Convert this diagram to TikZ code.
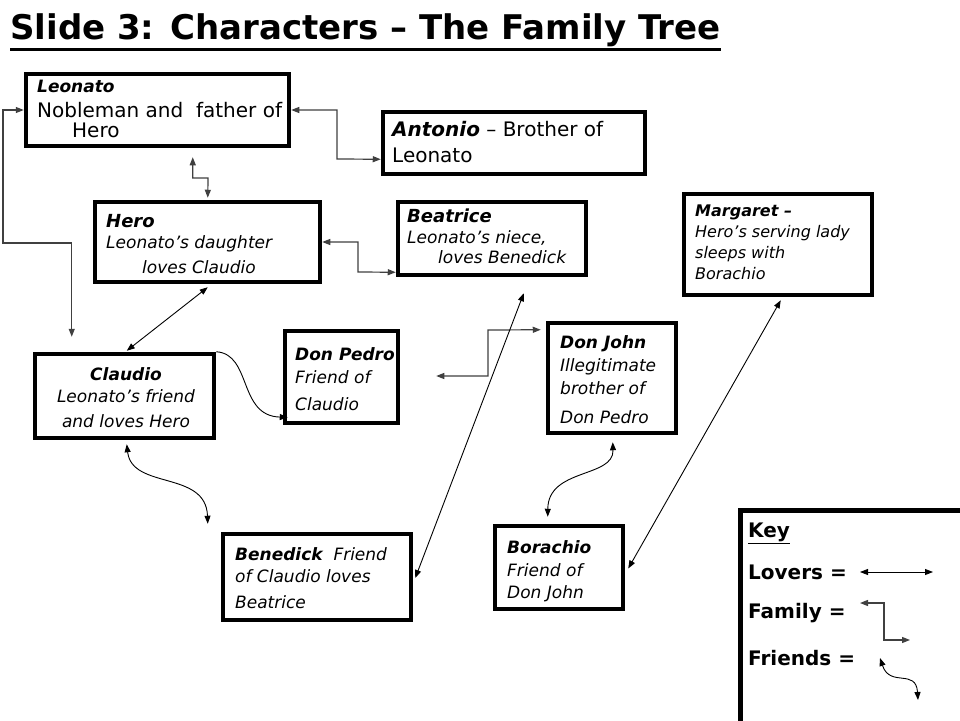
\documentclass[tikz,border=0pt]{standalone}
\usepackage{fontspec}
\setmainfont{DejaVu Sans}
\usetikzlibrary{arrows.meta,calc}
\begin{document}
\begin{tikzpicture}[x=1pt,y=-1pt,
  >={Triangle[length=8pt,width=6pt]},
  box/.style={draw=black,line width=4.5pt,inner sep=0pt},
  txt/.style={inner sep=0pt,align=left,anchor=north west},
  lov/.style={<->,line width=0.9pt,draw=black},
  fam/.style={<->,line width=1.2pt,draw=black!75},
  fri/.style={<->,line width=0.9pt,draw=black},
  keytxt/.style={inner sep=0pt,anchor=base west,font=\fontsize{20}{20}\selectfont\bfseries}
]
\clip (0,0) rectangle (960,720);
\fill[white] (0,0) rectangle (960,720);

% title
\node[inner sep=0pt,anchor=base west,font=\fontsize{34}{34}\selectfont\bfseries] (title) at (10,39) {Slide 3: Characters – The Family Tree};
\draw[line width=3pt] ($(title.base west)+(0,10)$) -- ($(title.base east)+(0,10)$);

% boxes
\node[box,minimum width=263pt,minimum height=72pt] (leonato) at (157.5,110) {};
\node[box,minimum width=262pt,minimum height=62pt] (antonio) at (514,143) {};
\node[box,minimum width=225pt,minimum height=80pt] (hero) at (207.5,242) {};
\node[box,minimum width=188pt,minimum height=73pt] (beatrice) at (492,238.5) {};
\node[box,minimum width=188pt,minimum height=101pt] (margaret) at (778,244.5) {};
\node[box,minimum width=179pt,minimum height=84pt] (claudio) at (124.5,396) {};
\node[box,minimum width=113pt,minimum height=92pt] (donpedro) at (341.5,377) {};
\node[box,minimum width=128pt,minimum height=110pt] (donjohn) at (612,378) {};
\node[box,minimum width=188pt,minimum height=86pt] (benedick) at (317,577) {};
\node[box,minimum width=128pt,minimum height=83pt] (borachio) at (559,567.5) {};
\node[box,minimum width=222pt,minimum height=240pt,anchor=north west] (key) at (738,508) {};

% texts
\node[txt,font=\fontsize{20}{20}\selectfont] (leonatoT) at (37,80)
  {{\fontsize{17}{17}\selectfont\bfseries\itshape Leonato}\\[5pt]
   Nobleman and\ \ father of\\
   \hspace*{35pt}Hero};
\node[txt,font=\fontsize{20}{26}\selectfont] (antonioT) at (392,121)
  {\textbf{\textit{Antonio}} – Brother of\\Leonato};
\node[txt,font=\fontsize{17}{21}\selectfont\itshape] (heroT) at (106,214)
  {{\fontsize{18}{18}\selectfont\bfseries Hero}\\
   Leonato’s daughter\\[4pt]
   \hspace*{36pt}loves Claudio};
\node[txt,font=\fontsize{17}{20.5}\selectfont\itshape] (beatriceT) at (407,209)
  {{\fontsize{18}{18}\selectfont\bfseries Beatrice}\\
   Leonato’s niece,\\
   \hspace*{31pt}loves Benedick};
\node[txt,font=\fontsize{16}{21}\selectfont\itshape] (margaretT) at (695,205)
  {\textbf{Margaret –}\\Hero’s serving lady\\sleeps with\\Borachio};
\node[txt,align=center,anchor=north,font=\fontsize{17}{22}\selectfont\itshape] (claudioT) at (126,367.5)
  {\textbf{Claudio}\\Leonato’s friend\\[3pt]and loves Hero};
\node[txt,font=\fontsize{17}{23}\selectfont\itshape] (donpedroT) at (295,347.5)
  {\textbf{Don Pedro}\\Friend of\\[4pt]Claudio};
\node[txt,font=\fontsize{17}{23}\selectfont\itshape] (donjohnT) at (560,335.5)
  {\textbf{Don John}\\Illegitimate\\brother of\\[6pt]Don Pedro};
\node[txt,font=\fontsize{17}{22}\selectfont\itshape] (benedickT) at (235,547.5)
  {\textbf{Benedick}\ \ Friend\\of Claudio loves\\[4pt]Beatrice};
\node[txt,font=\fontsize{17}{22.5}\selectfont\itshape] (borachioT) at (507,540.5)
  {\textbf{Borachio}\\Friend of\\Don John};

% key
\node[keytxt] (keyT) at (748,537) {\underline{Key}};
\node[keytxt] (lovT) at (748,579) {Lovers =};
\node[keytxt] (famT) at (748,618) {Family =};
\node[keytxt] (friT) at (748,665) {Friends =};
\coordinate (kl1) at (860,572);
\coordinate (kl2) at (933,572);
\coordinate (kf1) at (860,603);
\coordinate (kf2) at (910,640);
\coordinate (kr1) at (880,658);
\coordinate (kr2) at (918,700);
\draw[lov] (kl1) -- (kl2);
\draw[fam] (kf1) -| (884,640) -- (kf2);
\draw[fri] (kr1) .. controls (890,688) and (916,668) .. (kr2);

% family connectors
\draw[fam] ($(claudio.north west)+(39,-15)$) |- (3,243) |- (leonato.west);
\draw[fam] (leonato.east) -| (337,159) -- ($(antonio.south west)+(0,-17)$);
\draw[fam] ($(leonato.south west)+(169,9)$) |- (208,178) -- ($(hero.north west)+(115,-2)$);
\draw[fam] (hero.east) -| (358,272) -- ($(beatrice.south west)+(0,-5)$);
\draw[fam] ($(donpedro.east)+(36,-1)$) -| (488,330) -- ($(donjohn.north west)+(-5,9)$);

% lovers connectors
\draw[lov] ($(hero.south west)+(115,3)$) -- ($(claudio.north west)+(94,-1)$);
\draw[lov] ($(beatrice.south west)+(128,16)$) -- ($(benedick.east)+(2,1)$);
\draw[lov] ($(margaret.south west)+(99,3)$) -- ($(borachio.east)+(3,1)$);

% friends connectors
\draw[fri,-{Triangle[length=8pt,width=6pt]}] (claudio.north east) .. controls (252,354) and (238,416) .. ($(donpedro.south west)+(5,-8)$);
\draw[fri] ($(claudio.south west)+(94,4)$) .. controls (132,490) and (206,470) .. ($(benedick.north west)+(-13,-8)$);
\draw[fri] ($(donjohn.south west)+(67,7)$) .. controls (614,478) and (548,468) .. ($(borachio.north west)+(55,-7)$);
\end{tikzpicture}
\end{document}
